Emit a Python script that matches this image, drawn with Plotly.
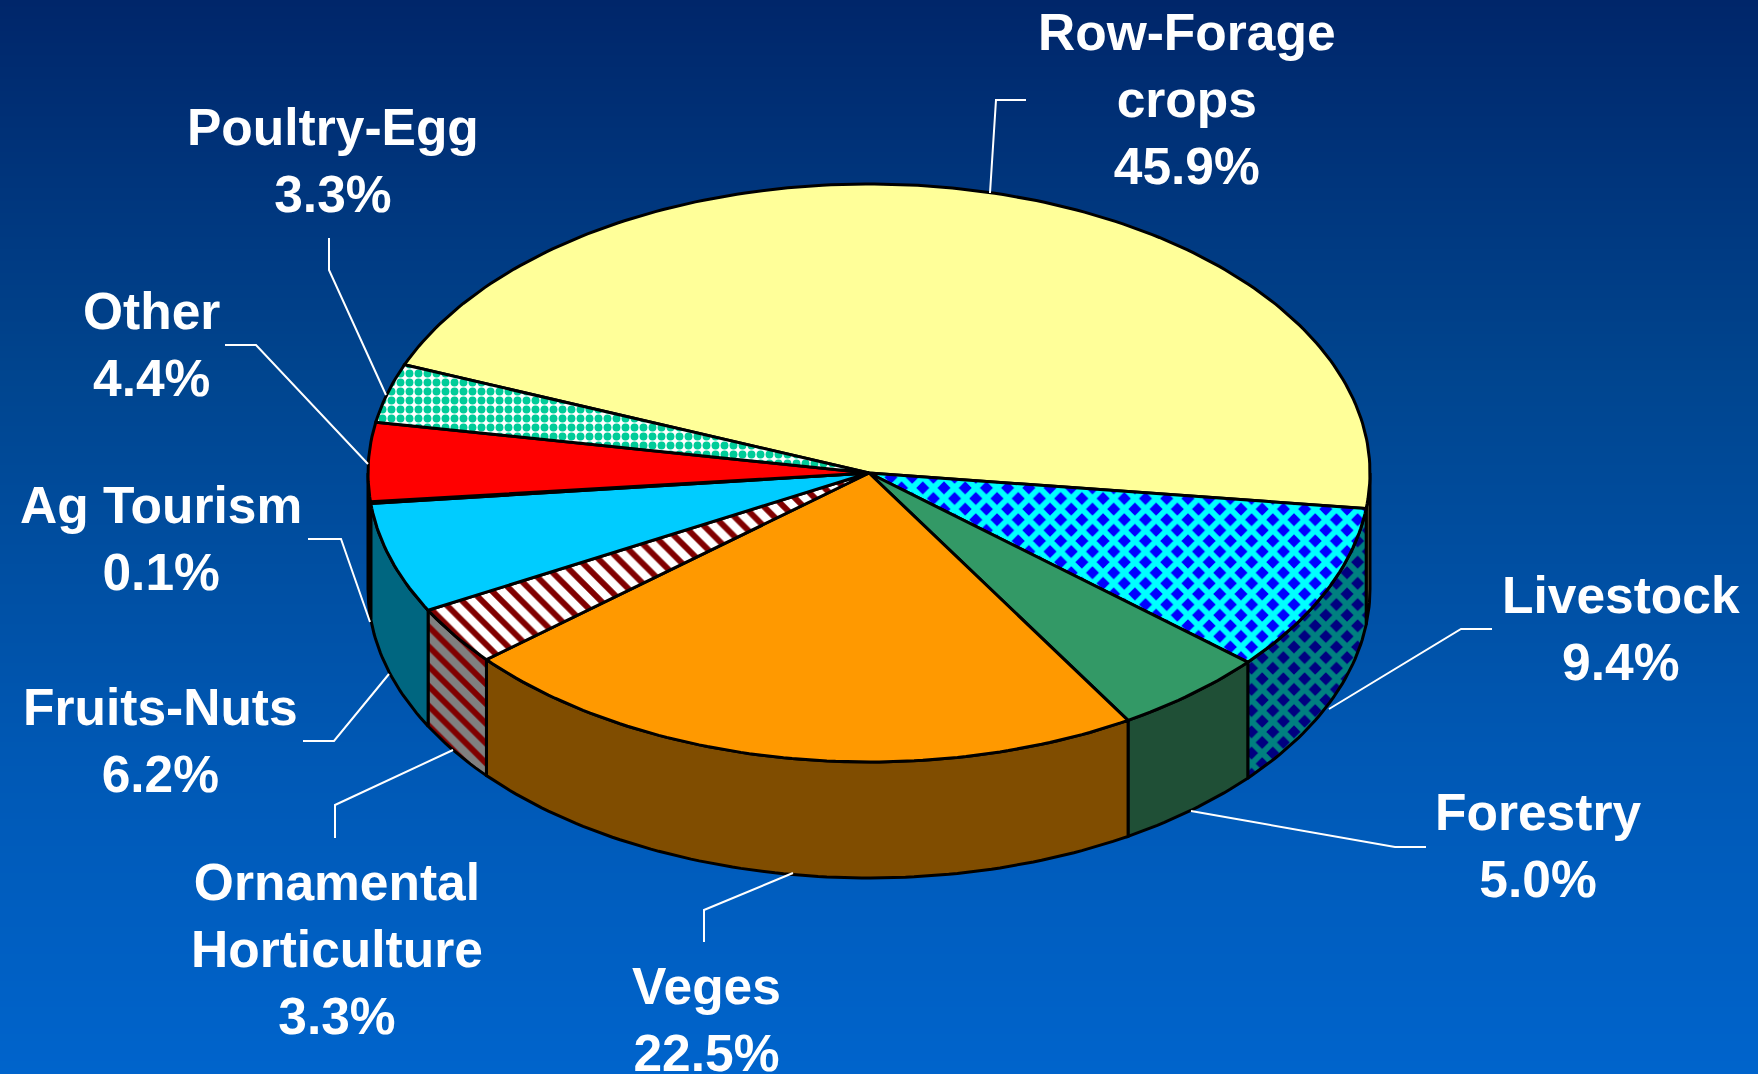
import numpy as np
import plotly.graph_objects as go

# ---------------- Data ----------------
labels = ["Row-Forage<br>crops", "Livestock", "Forestry", "Veges", "Ornamental<br>Horticulture",
          "Fruits-Nuts", "Ag Tourism", "Other", "Poultry-Egg"]
shares = [45.9, 9.4, 5.0, 22.5, 3.3, 6.2, 0.1, 4.4, 3.3]

# ---------------- Slice styles (top colour, side colour, pattern) ----------------
top_colors = ["#ffff99", "#0000ff", "#339966", "#ff9900", "#ffffff", "#00ccff", "#00b0e0", "#ff0000", "#ffffff"]
side_colors = ["#808050", "#000080", "#1f4f36", "#804d00", "#808080", "#006680", "#004060", "#800000", "#808080"]
patterns = [None, dict(shape="x", size=15, solidity=0.62, fg="#00ffff", side_fg="#008080"), None, None,
            dict(shape="\\", size=14, solidity=0.42, fg="#800000", side_fg="#800000"),
            None, None, None,
            dict(shape=".", size=9, solidity=0.6, fg="#00cc99", side_fg="#006650")]

# label centre and leader line, in page pixels
label_pos = [(1187, 99), (1621, 628), (1538, 845), (706, 1019), (337, 949),
             (160, 740), (161, 538), (151, 344), (333, 160)]
leaders = [
    [(1026, 100), (996, 100), (990, 193)],
    [(1492, 629), (1461, 629), (1329, 709)],
    [(1426, 847), (1395, 847), (1191, 811)],
    [(704, 942), (704, 910), (793, 873)],
    [(335, 838), (335, 805), (453, 750)],
    [(303, 741), (334, 741), (389, 674)],
    [(308, 539), (341, 539), (370, 622)],
    [(225, 345), (256, 345), (368, 464)],
    [(329, 238), (329, 270), (386, 395)],
]

# pie geometry
cx, cy, rx, ry, depth = 869, 473, 501, 289, 116
start_angle = 158

fig = go.Figure()

# ---------------- Background gradient ----------------
fig.add_trace(go.Heatmap(
    x=[0, 1758], y=[0, 1074], z=[[0, 0], [1, 1]], zsmooth="best", showscale=False, hoverinfo="skip",
    colorscale=[[0, "#00266a"], [0.35, "#00458f"], [0.7, "#0058b4"], [1, "#0064cc"]],
))


def arc(a1, a2, drop=0):
    steps = max(2, int(abs(a2 - a1)) + 2)
    t = np.radians(np.linspace(a1, a2, steps))
    return cx + rx * np.cos(t), cy - ry * np.sin(t) + drop


def add_poly(x, y, color, pattern=None, fg=None):
    fillpattern = None
    if pattern:
        fillpattern = dict(shape=pattern["shape"], size=pattern["size"], solidity=pattern["solidity"],
                           fgcolor=fg, bgcolor=color, fillmode="replace")
    fig.add_trace(go.Scatter(x=x, y=y, mode="lines", fill="toself", fillcolor=color, fillpattern=fillpattern,
                             line=dict(color="black", width=3), showlegend=False, hoverinfo="skip"))


# slice angles, clockwise from the start angle
sweeps = np.array(shares) / sum(shares) * 360
ends = start_angle - np.cumsum(sweeps)
starts = ends + sweeps

# ---------------- Side walls (only the front half shows) ----------------
for i in range(len(shares)):
    a1, a2 = min(starts[i], 0), max(ends[i], -180)
    if a1 <= a2:
        continue
    xt, yt = arc(a1, a2)
    xb, yb = arc(a2, a1, depth)
    p = patterns[i]
    add_poly(np.r_[xt, xb, xt[0]], np.r_[yt, yb, yt[0]], side_colors[i], p, p["side_fg"] if p else None)

# ---------------- Top slices ----------------
for i in range(len(shares)):
    xt, yt = arc(starts[i], ends[i])
    p = patterns[i]
    add_poly(np.r_[cx, xt, cx], np.r_[cy, yt, cy], top_colors[i], p, p["fg"] if p else None)

# ---------------- Leader lines and labels ----------------
for pts in leaders:
    fig.add_trace(go.Scatter(x=[q[0] for q in pts], y=[q[1] for q in pts], mode="lines",
                             line=dict(color="white", width=2), showlegend=False, hoverinfo="skip"))

for name, share, (lx, ly) in zip(labels, shares, label_pos):
    fig.add_annotation(x=lx, y=ly, text=f"<b>{name}<br>{share:.1f}%</b>", showarrow=False, align="center",
                       font=dict(family="Liberation Sans", size=51.5, color="white"))

fig.update_xaxes(range=[0, 1758], visible=False, fixedrange=True)
fig.update_yaxes(range=[1074, 0], visible=False, fixedrange=True)
fig.update_layout(width=1758, height=1074, margin=dict(l=0, r=0, t=0, b=0), showlegend=False,
                  paper_bgcolor="#0064cc", plot_bgcolor="#0064cc")

fig.write_html("out.html", config={"displayModeBar": False},
               post_script="document.body.style.margin='0';document.body.style.overflow='hidden';")
